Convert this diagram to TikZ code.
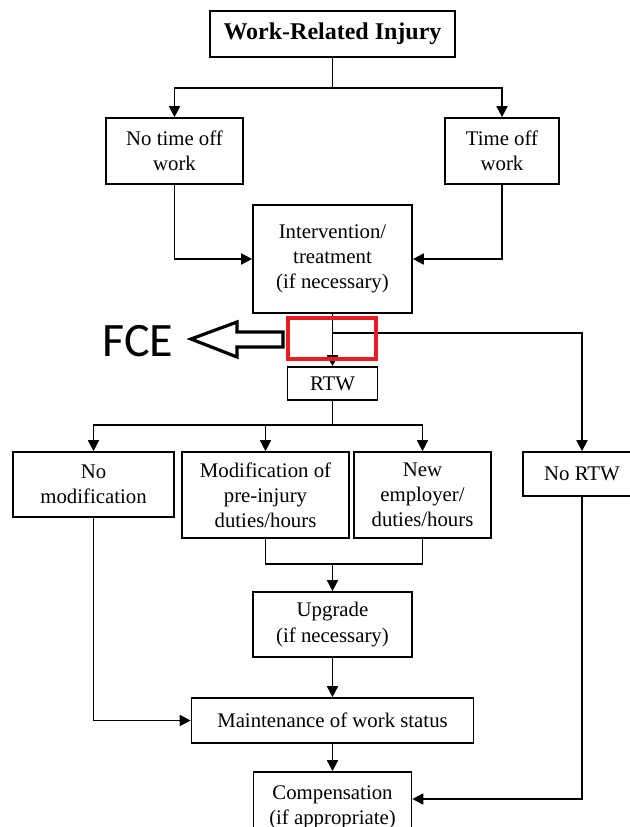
\documentclass[tikz,border=0pt]{standalone}
\usepackage{fontspec}
\setmainfont{Liberation Serif}
\newfontfamily\fcefont{Carlito}
\usetikzlibrary{arrows.meta}
\definecolor{markred}{RGB}{232,28,36}
\tikzset{
	box/.style={draw,line width=0.85pt,align=center,inner sep=2pt,font=\fontsize{10.4}{12.6}\selectfont},
	arr/.style={-{Triangle[length=5.5pt,width=5.5pt]},line width=0.85pt},
	line/.style={line width=0.85pt}
}
\begin{document}
\begin{tikzpicture}[x=0.5pt,y=-0.5pt]
			\useasboundingbox (0,0) rectangle (629,827);
			% boxes
			\node[box,minimum width=122.5pt,minimum height=23pt,font=\bfseries\fontsize{12}{14}\selectfont] (inj) at (332.5,34) {Work-Related Injury};
			\node[box,minimum width=68.5pt,minimum height=33pt] (noff) at (174.5,151) {No time off\\work};
			\node[box,minimum width=57pt,minimum height=33pt] (toff) at (502,151) {Time off\\work};
			\node[box,minimum width=79.5pt,minimum height=54pt] (interv) at (332.5,259) {Intervention/\\treatment\\(if necessary)};
			\node[box,minimum width=45pt,minimum height=16.5pt] (rtw) at (332.5,383.5) {RTW};
			\node[box,minimum width=80.5pt,minimum height=32.5pt] (nomod) at (93.5,484.5) {No\\modification};
			\node[box,minimum width=83.5pt,minimum height=43pt] (mod) at (265.5,495) {Modification of\\pre-injury\\duties/hours};
			\node[box,minimum width=68.5pt,minimum height=43pt] (newemp) at (422.5,495) {New\\employer/\\duties/hours};
			\node[box,minimum width=59pt,minimum height=22pt] (nortw) at (582,474) {No RTW};
			\node[box,minimum width=79.5pt,minimum height=32.5pt] (upg) at (332.5,624.5) {Upgrade\\(if necessary)};
			\node[box,minimum width=141pt,minimum height=22.5pt] (maint) at (332.5,720.5) {Maintenance of work status};
			\node[box,minimum width=79pt,minimum height=35pt] (comp) at (332.5,807) {Compensation\\(if appropriate)};
			% connectors
			\coordinate (j1) at (332.5,88);
			\draw[line] (inj.south) -- (j1);
			\draw[arr] (j1) -| (noff.north);
			\draw[arr] (j1) -| (toff.north);
			\draw[arr] (noff.south) |- (interv.west);
			\draw[arr] (toff.south) |- (interv.east);
			\draw[arr] (interv.south) -- (rtw.north);
			\coordinate (j2) at (332.5,333);
			\draw[arr] (j2) -| (nortw.north);
			\coordinate (j3) at (332.5,425);
			\draw[line] (rtw.south) -- (j3);
			\draw[arr] (j3) -| (nomod.north);
			\draw[arr] (j3) -| (mod.north);
			\draw[arr] (j3) -| (newemp.north);
			\coordinate (j4) at (332.5,564);
			\draw[line] (mod.south) |- (j4) -| (newemp.south);
			\draw[arr] (j4) -- (upg.north);
			\draw[arr] (upg) -- (maint);
			\draw[arr] (maint) -- (comp);
			\draw[arr] (nomod.south) |- (maint.west);
			\draw[arr] (nortw.south) |- ([yshift=4pt]comp.east);
			% FCE mark
			\draw[markred,line width=1.6pt] (288,318) rectangle (376,359);
			\draw[line width=1.6pt] (283,332) -- (237,332) -- (237,322) -- (191,339) -- (237,357) -- (237,347) -- (283,347) -- cycle;
			\node[font=\fcefont\fontsize{24}{28}\selectfont,inner sep=0pt] (fce) at (138,341) {FCE};
		\end{tikzpicture}
\end{document}
